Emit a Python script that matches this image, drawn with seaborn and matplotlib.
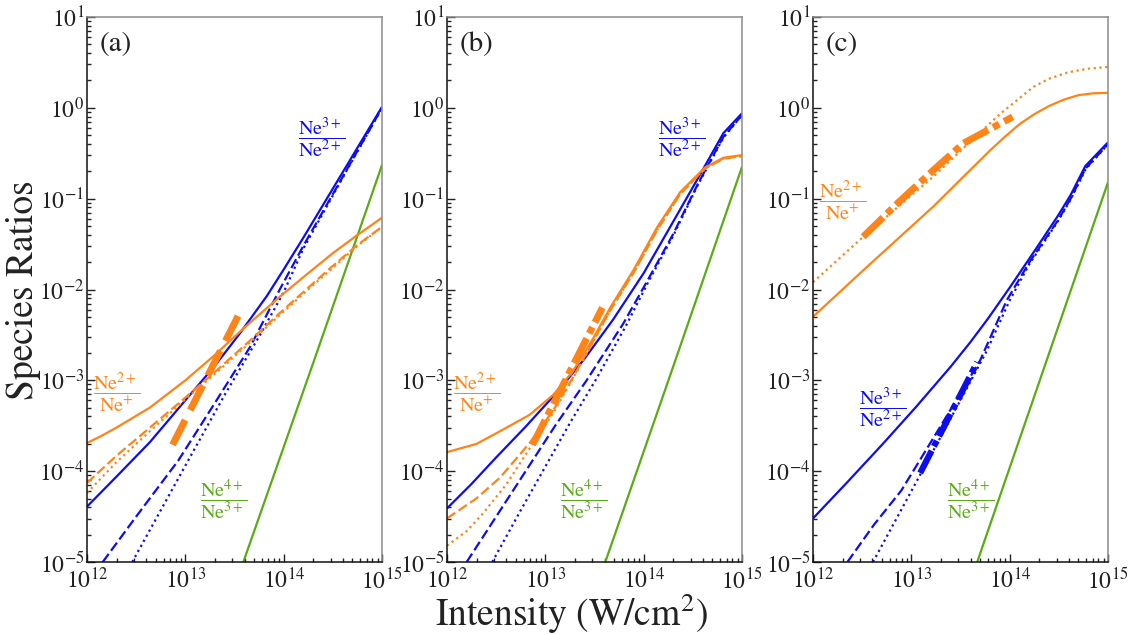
import numpy as np
import matplotlib
matplotlib.use("Agg")
import matplotlib.pyplot as plt
import seaborn as sns

sns.set_style("ticks")
plt.rcParams["font.family"] = ["STIXGeneral", "DejaVu Serif"]
plt.rcParams["mathtext.fontset"] = "stix"

# ---------------- data: log10 intensity (W/cm^2) and log10 species ratio ----------------
# Panel (a)
a_blue_solid_x = [12.0, 12.3, 12.64, 13.0, 13.3, 13.55, 13.83, 14.0, 14.2, 14.6, 15.0]
a_blue_solid_y = [-4.39, -4.06, -3.68, -3.22, -2.84, -2.49, -2.07, -1.78, -1.43, -0.71, 0.01]
a_blue_dash_x = [12.16, 12.5, 12.93, 13.3, 13.66, 13.96, 14.2, 14.6, 15.0]
a_blue_dash_y = [-5.0, -4.5, -3.88, -3.25, -2.63, -2.0, -1.52, -0.76, 0.0]
a_blue_dot_x = [12.46, 13.03, 13.4, 13.76, 14.0, 14.2, 14.6, 15.0]
a_blue_dot_y = [-5.0, -3.88, -3.16, -2.50, -2.03, -1.55, -0.77, 0.0]
a_or_solid_x = [12.0, 12.15, 12.3, 12.64, 13.0, 13.28, 13.6, 13.96, 14.25, 14.5, 14.75, 15.0]
a_or_solid_y = [-3.69, -3.61, -3.52, -3.30, -3.0, -2.74, -2.42, -2.08, -1.82, -1.60, -1.40, -1.21]
a_or_dash_x = [12.0, 12.3, 12.64, 13.0, 13.32, 13.65, 13.96, 14.25, 14.5, 14.75, 15.0]
a_or_dash_y = [-4.13, -3.83, -3.52, -3.19, -2.89, -2.57, -2.26, -1.98, -1.74, -1.51, -1.31]
a_or_dot_x = [12.0, 12.3, 12.64, 13.0, 13.32, 13.65, 13.96, 14.25, 14.5, 14.75, 15.0]
a_or_dot_y = [-4.24, -3.90, -3.56, -3.21, -2.91, -2.59, -2.28, -2.0, -1.76, -1.52, -1.31]
a_or_exp_x = [12.87, 13.58]
a_or_exp_y = [-3.71, -2.20]
a_green_x = [13.59, 14.3, 15.0]
a_green_y = [-5.0, -2.81, -0.63]

# Panel (b)
b_blue_solid_x = [12.0, 12.25, 12.49, 12.8, 13.12, 13.4, 13.69, 14.0, 14.27, 14.55, 14.81, 15.0]
b_blue_solid_y = [-4.41, -4.14, -3.86, -3.51, -3.13, -2.76, -2.33, -1.82, -1.31, -0.78, -0.28, -0.06]
b_blue_dash_x = [12.20, 12.5, 12.8, 13.1, 13.42, 13.79, 14.05, 14.3, 14.55, 14.81, 15.0]
b_blue_dash_y = [-5.0, -4.5, -4.0, -3.5, -3.0, -2.38, -1.88, -1.39, -0.84, -0.32, -0.08]
b_blue_dot_x = [12.46, 12.75, 13.0, 13.25, 13.51, 13.82, 14.05, 14.3, 14.55, 14.81, 15.0]
b_blue_dot_y = [-5.0, -4.43, -3.95, -3.47, -3.0, -2.40, -1.91, -1.41, -0.85, -0.33, -0.08]
b_or_solid_x = [12.0, 12.3, 12.54, 12.84, 13.08, 13.28, 13.48, 13.66, 13.9, 14.14, 14.37, 14.62, 14.81, 15.0]
b_or_solid_y = [-3.79, -3.70, -3.56, -3.38, -3.16, -2.90, -2.55, -2.20, -1.78, -1.31, -0.93, -0.66, -0.55, -0.52]
b_or_dash_x = [12.0, 12.3, 12.54, 12.84, 13.08, 13.28, 13.48, 13.66, 13.9, 14.14, 14.37, 14.62, 14.81, 15.0]
b_or_dash_y = [-4.52, -4.30, -4.07, -3.69, -3.33, -2.97, -2.58, -2.23, -1.81, -1.34, -0.95, -0.67, -0.56, -0.53]
b_or_dot_x = [12.0, 12.2, 12.37, 12.6, 12.84, 13.08, 13.28, 13.48, 13.66, 13.9, 14.14, 14.37, 14.62, 14.81, 15.0]
b_or_dot_y = [-4.82, -4.66, -4.46, -4.15, -3.75, -3.36, -2.98, -2.59, -2.23, -1.81, -1.34, -0.95, -0.67, -0.56, -0.53]
b_or_exp_x = [12.87, 13.58]
b_or_exp_y = [-3.71, -2.20]
b_green_x = [13.61, 14.3, 15.0]
b_green_y = [-5.0, -2.85, -0.65]

# Panel (c)
c_or_solid_x = [12.0, 12.55, 13.22, 13.5, 13.8, 13.95, 14.1, 14.25, 14.4, 14.55, 14.7, 14.85, 15.0]
c_or_solid_y = [-2.30, -1.75, -1.09, -0.79, -0.47, -0.32, -0.18, -0.07, 0.02, 0.09, 0.14, 0.16, 0.165]
c_or_dot_x = [12.0, 12.51, 13.22, 13.73, 13.91, 14.07, 14.24, 14.4, 14.59, 14.79, 15.0]
c_or_dot_y = [-1.92, -1.42, -0.76, -0.24, -0.06, 0.08, 0.23, 0.32, 0.39, 0.43, 0.45]
c_or_exp_x = [12.51, 12.86, 13.22, 13.53, 14.03]
c_or_exp_y = [-1.42, -1.05, -0.69, -0.39, -0.10]
c_blue_solid_x = [12.0, 12.35, 12.71, 13.05, 13.4, 13.6, 13.78, 14.0, 14.25, 14.49, 14.62, 14.77, 15.0]
c_blue_solid_y = [-4.52, -4.12, -3.70, -3.29, -2.85, -2.58, -2.32, -1.98, -1.58, -1.19, -0.96, -0.64, -0.38]
c_blue_dash_x = [12.35, 12.62, 12.90, 13.30, 13.70, 13.97, 14.2, 14.49, 14.62, 14.77, 15.0]
c_blue_dash_y = [-5.0, -4.59, -4.21, -3.50, -2.78, -2.12, -1.70, -1.24, -1.00, -0.67, -0.40]
c_blue_dot_x = [12.61, 13.02, 13.4, 13.77, 14.0, 14.2, 14.49, 14.62, 14.77, 15.0]
c_blue_dot_y = [-5.0, -4.18, -3.42, -2.67, -2.12, -1.72, -1.25, -1.01, -0.68, -0.40]
c_blue_exp_x = [13.09, 13.67]
c_blue_exp_y = [-4.02, -2.80]
c_green_x = [13.67, 14.3, 15.0]
c_green_y = [-5.0, -3.02, -0.82]

panel_letters = ["(a)", "(b)", "(c)"]
lab_32 = r"$\dfrac{\mathrm{Ne}^{3+}}{\mathrm{Ne}^{2+}}$"
lab_21 = r"$\dfrac{\mathrm{Ne}^{2+}}{\mathrm{Ne}^{+}}$"
lab_43 = r"$\dfrac{\mathrm{Ne}^{4+}}{\mathrm{Ne}^{3+}}$"

BLUE = "#0d0df0"
ORANGE = "#ff8417"
GREEN = "#5aab14"

fig = plt.figure(figsize=(11.32, 6.35), dpi=100)
lefts = [87 / 1132, 447 / 1132, 813 / 1132]
axes = [fig.add_axes([l, 73 / 635, 295 / 1132, 545 / 635]) for l in lefts]


def draw(ax, xs, ys, color, style, lw=1.6):
    sns.lineplot(x=10 ** np.asarray(xs, float), y=10 ** np.asarray(ys, float), ax=ax,
                 color=color, linewidth=lw, sort=False, estimator=None)
    ln = ax.lines[-1]
    if style == "dash":
        ln.set_dashes((4.5, 1.8))
    elif style == "dot":
        ln.set_dashes((1.0, 1.6))
    elif style == "thickdash":
        ln.set_dashes((4.0, 1.6))
    elif style == "thickdashdot":
        ln.set_dashes((4.0, 0.8, 1.0, 0.8))
    ln.set_solid_capstyle("butt")
    ln.set_dash_capstyle("butt")
    ln.set_solid_joinstyle("round")


ax = axes[0]
draw(ax, a_green_x, a_green_y, GREEN, "solid")
draw(ax, a_blue_dot_x, a_blue_dot_y, BLUE, "dot")
draw(ax, a_blue_dash_x, a_blue_dash_y, BLUE, "dash")
draw(ax, a_blue_solid_x, a_blue_solid_y, BLUE, "solid")
draw(ax, a_or_dot_x, a_or_dot_y, ORANGE, "dot")
draw(ax, a_or_dash_x, a_or_dash_y, ORANGE, "dash")
draw(ax, a_or_solid_x, a_or_solid_y, ORANGE, "solid")
draw(ax, a_or_exp_x, a_or_exp_y, ORANGE, "thickdash", lw=5)

ax = axes[1]
draw(ax, b_green_x, b_green_y, GREEN, "solid")
draw(ax, b_blue_dot_x, b_blue_dot_y, BLUE, "dot")
draw(ax, b_blue_dash_x, b_blue_dash_y, BLUE, "dash")
draw(ax, b_blue_solid_x, b_blue_solid_y, BLUE, "solid")
draw(ax, b_or_dot_x, b_or_dot_y, ORANGE, "dot")
draw(ax, b_or_dash_x, b_or_dash_y, ORANGE, "dash")
draw(ax, b_or_solid_x, b_or_solid_y, ORANGE, "solid")
draw(ax, b_or_exp_x, b_or_exp_y, ORANGE, "thickdashdot", lw=5)

ax = axes[2]
draw(ax, c_green_x, c_green_y, GREEN, "solid")
draw(ax, c_blue_dot_x, c_blue_dot_y, BLUE, "dot")
draw(ax, c_blue_dash_x, c_blue_dash_y, BLUE, "dash")
draw(ax, c_blue_solid_x, c_blue_solid_y, BLUE, "solid")
draw(ax, c_blue_exp_x, c_blue_exp_y, BLUE, "thickdashdot", lw=4.5)
draw(ax, c_or_dot_x, c_or_dot_y, ORANGE, "dot")
draw(ax, c_or_solid_x, c_or_solid_y, ORANGE, "solid")
draw(ax, c_or_exp_x, c_or_exp_y, ORANGE, "thickdashdot", lw=5)

label_pos = [
    [(0.797, 0.778, lab_32, BLUE), (0.102, 0.312, lab_21, ORANGE), (0.464, 0.114, lab_43, GREEN)],
    [(0.797, 0.778, lab_32, BLUE), (0.102, 0.312, lab_21, ORANGE), (0.464, 0.114, lab_43, GREEN)],
    [(0.102, 0.664, lab_21, ORANGE), (0.235, 0.283, lab_32, BLUE), (0.534, 0.114, lab_43, GREEN)],
]

for i, ax in enumerate(axes):
    ax.set_xscale("log")
    ax.set_yscale("log")
    ax.set_xlim(1e12, 1e15)
    ax.set_ylim(1e-5, 1e1)
    ax.set_xlabel("")
    ax.set_ylabel("")
    ax.set_xticks([1e12, 1e13, 1e14, 1e15])
    ax.set_yticks([10.0 ** k for k in range(-5, 2)])
    ax.yaxis.set_minor_locator(matplotlib.ticker.LogLocator(base=10, subs=np.arange(2, 10), numticks=20))
    ax.xaxis.set_minor_locator(matplotlib.ticker.LogLocator(base=10, subs=np.arange(2, 10), numticks=20))
    ax.yaxis.set_minor_formatter(matplotlib.ticker.NullFormatter())
    ax.xaxis.set_minor_formatter(matplotlib.ticker.NullFormatter())
    ax.tick_params(which="both", direction="in", top=False, right=False,
                   labelsize=17, colors="#222222", width=1.0)
    ax.tick_params(which="major", length=6)
    ax.tick_params(which="minor", length=3)
    ax.tick_params(axis="x", pad=4)
    ax.tick_params(axis="y", pad=2)
    for s in ["left", "bottom"]:
        ax.spines[s].set_color("#111111")
        ax.spines[s].set_linewidth(1.1)
    for s in ["top", "right"]:
        ax.spines[s].set_color("#8a8a8a")
        ax.spines[s].set_linewidth(1.1)
        ax.spines[s].set_visible(True)
    ax.text(0.044, 0.95, panel_letters[i], transform=ax.transAxes, fontsize=21,
            ha="left", va="center", color="#222222")
    for (fx, fy, txt, col) in label_pos[i]:
        ax.text(fx, fy, txt, transform=ax.transAxes, fontsize=14.5, color=col,
                ha="center", va="center")

fig.text(24 / 1132, 1 - 290 / 635, "Species Ratios", rotation=90, fontsize=27,
         ha="center", va="center", color="#222222")
fig.text(571 / 1132, 1 - 626 / 635, r"Intensity (W/cm$^{2}$)", fontsize=27,
         ha="center", va="baseline", color="#222222")

fig.savefig("out.png", dpi=100)
